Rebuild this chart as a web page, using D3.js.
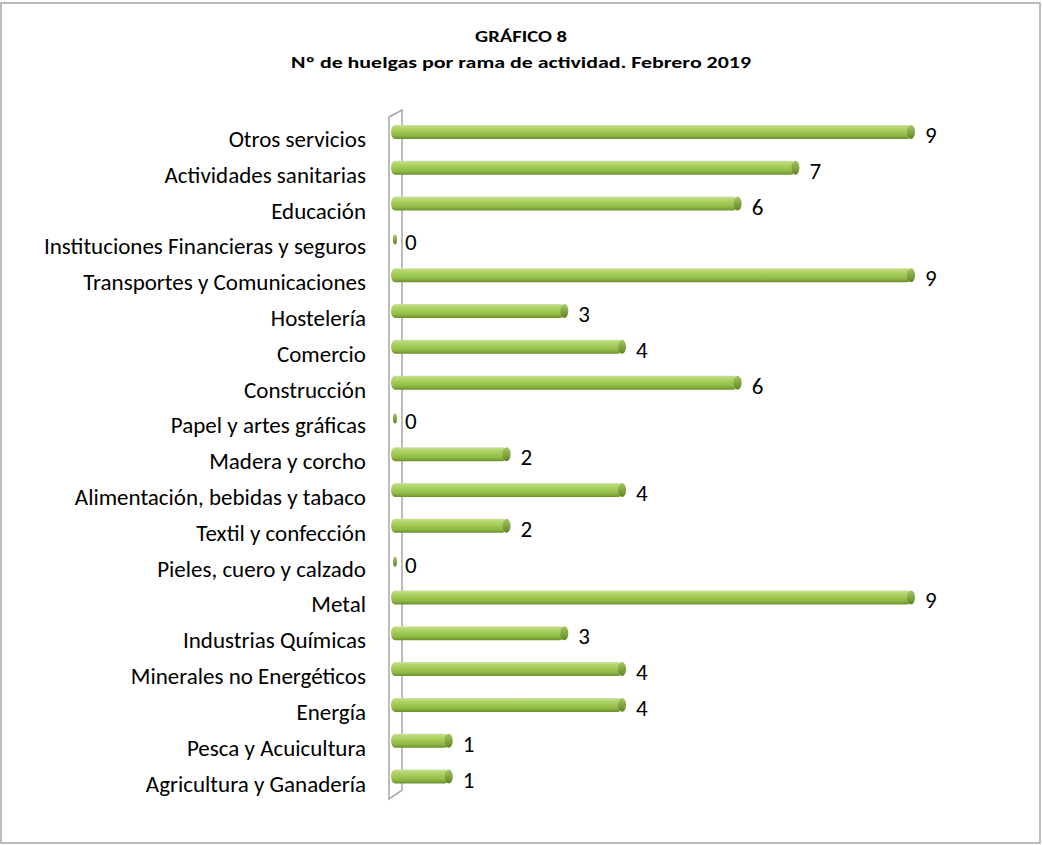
<!DOCTYPE html>
<html>
<head>
<meta charset="utf-8">
<script src="https://cdn.jsdelivr.net/npm/d3@7"></script>
<style>
  body { margin: 0; background: #fff; }
  text { font-family: Carlito, Calibri, Lato, sans-serif; }
</style>
</head>
<body>
<svg id="chart" width="1042" height="845"></svg>
<script>
const WIDTH = 1042
const HEIGHT = 845

// categories listed top to bottom as in the picture
const categories = [
    'Otros servicios', 'Actividades sanitarias', 'Educación',
    'Instituciones Financieras y seguros', 'Transportes y Comunicaciones',
    'Hostelería', 'Comercio', 'Construcción', 'Papel y artes gráficas',
    'Madera y corcho', 'Alimentación, bebidas y tabaco', 'Textil y confección',
    'Pieles, cuero y calzado', 'Metal', 'Industrias Químicas',
    'Minerales no Energéticos', 'Energía', 'Pesca y Acuicultura',
    'Agricultura y Ganadería'
];
const huelgas = [9, 7, 6, 0, 9, 3, 4, 6, 0, 2, 4, 2, 0, 9, 3, 4, 4, 1, 1];
const titleLines = ['GRÁFICO 8', 'Nº de huelgas por rama de actividad. Febrero 2019'];

const svg = d3.select('#chart');

// outer frame
svg.append('rect')
    .attr('x', 1).attr('y', 3)
    .attr('width', WIDTH - 3).attr('height', HEIGHT - 5)
    .attr('fill', '#fff').attr('stroke', '#a6a6a6').attr('stroke-width', 1.5);

// title (stretched wide like the original)
const titleWidths = [92, 460];
svg.append('g').selectAll('text')
    .data(titleLines)
    .join('text')
    .attr('x', (d, i) => 521 - titleWidths[i] / 2)
    .attr('y', (d, i) => 42 + i * 26)
    .attr('font-weight', 'bold')
    .attr('font-size', 16)
    .attr('textLength', (d, i) => titleWidths[i])
    .attr('lengthAdjust', 'spacingAndGlyphs')
    .text(d => d);

const x = d3.scaleLinear().domain([0, 9]).range([395, 915]);
const y = d3.scalePoint().domain(categories).range([132, 776.5]);
const bh = 14;
const rx = 4;

// gradient for the cylinder bars
const defs = svg.append('defs');
const grad = defs.append('linearGradient')
    .attr('id', 'barGrad').attr('x1', 0).attr('y1', 0).attr('x2', 0).attr('y2', 1);
[['0%', '#cfe0a8'], ['15%', '#b7d872'], ['45%', '#a2cb56'], ['75%', '#8fb844'], ['100%', '#6a8e2c']]
    .forEach(([o, c]) => grad.append('stop').attr('offset', o).attr('stop-color', c));
const capGrad = defs.append('linearGradient')
    .attr('id', 'capGrad').attr('x1', 0).attr('y1', 0).attr('x2', 0).attr('y2', 1);
[['0%', '#a6c766'], ['100%', '#5f8523']]
    .forEach(([o, c]) => capGrad.append('stop').attr('offset', o).attr('stop-color', c));

// 3D wall on the left
const wallTop = 110, wallBottom = 790, wx0 = 389, wx1 = 402, depth = 7;
svg.append('path')
    .attr('d', `M${wx0},${wallTop + depth}L${wx1},${wallTop}L${wx1},${wallBottom}L${wx0},${wallBottom + depth + 2}Z`)
    .attr('fill', '#fff')
    .attr('stroke', '#a6a6a6')
    .attr('stroke-width', 1.5);

// category labels
svg.append('g').selectAll('text')
    .data(categories)
    .join('text')
    .attr('x', 366)
    .attr('y', d => y(d) + 15)
    .attr('text-anchor', 'end')
    .attr('font-size', 23)
    .attr('fill', '#000')
    .text(d => d);

const bars = svg.append('g').selectAll('g')
    .data(categories.map((c, i) => ({ cat: c, v: huelgas[i] })))
    .join('g');

bars.filter(d => d.v > 0).append('rect')
    .attr('x', x(0) - rx)
    .attr('y', d => y(d.cat) - bh / 2)
    .attr('width', d => x(d.v) - x(0))
    .attr('height', bh)
    .attr('rx', rx).attr('ry', bh / 2)
    .attr('fill', 'url(#barGrad)');

// end caps
bars.append('ellipse')
    .attr('cx', d => x(d.v) - (d.v > 0 ? rx : 0))
    .attr('cy', d => y(d.cat))
    .attr('rx', d => d.v > 0 ? rx : 2)
    .attr('ry', d => d.v > 0 ? bh / 2 : bh / 2 - 2)
    .attr('fill', 'url(#capGrad)');

// value labels
bars.append('text')
    .attr('x', d => x(d.v) + 10)
    .attr('y', d => y(d.cat) + 11)
    .attr('font-size', 23)
    .text(d => d.v);
</script>
</body>
</html>
